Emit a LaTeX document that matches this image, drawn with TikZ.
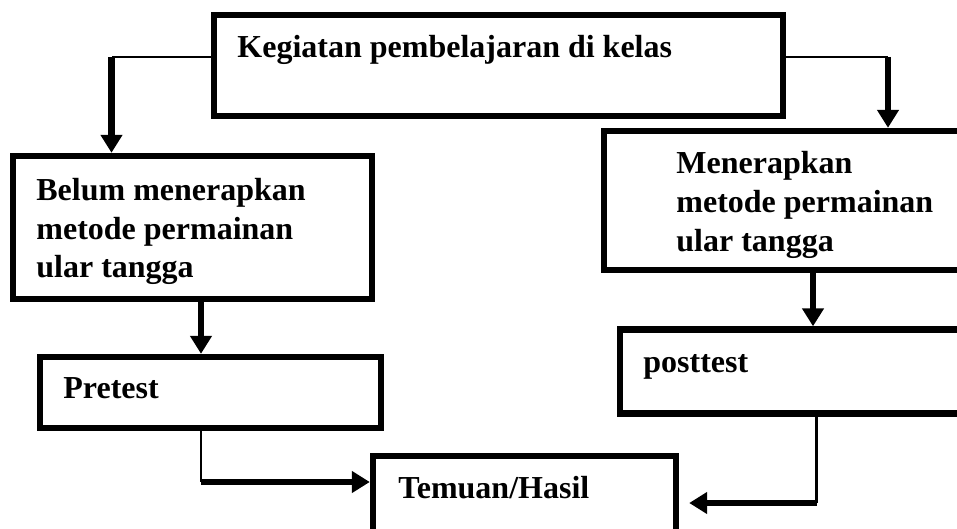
\documentclass[tikz,border=0pt]{standalone}
\usepackage{fontspec}
\setmainfont{Liberation Serif}
\usetikzlibrary{arrows.meta}
\begin{document}
\begin{tikzpicture}[
        x=0.5pt, y=-0.5pt,
        box/.style={rectangle, draw, line width=3.2pt, inner sep=0pt},
        txt/.style={font=\bfseries\fontsize{16}{19.5}\selectfont, anchor=base west, align=left, inner sep=0pt},
        link/.style={line width=1.3pt},
        flow/.style={line width=3.2pt, -{Triangle[width=10.5pt,length=9pt]}}
    ]
        \useasboundingbox (0,0) rectangle (957,529);
        \clip (0,0) rectangle (957,529);

        % Kotak-kotak
        \node[box, minimum width=284.5pt, minimum height=50.5pt] (kegiatan) at (498.5,65.5) {};
        \node[box, minimum width=179.5pt, minimum height=71.5pt] (belum) at (192.5,227.5) {};
        \node[box, minimum width=180.5pt, minimum height=69.5pt] (menerapkan) at (784.5,200.5) {};
        \node[box, minimum width=170.5pt, minimum height=35.5pt] (pretest) at (210.5,392.5) {};
        \node[box, minimum width=172.5pt, minimum height=42pt] (posttest) at (792.5,371.5) {};
        \node[box, minimum width=151.5pt, minimum height=44.5pt] (temuan) at (524.5,500.5) {};

        % Teks (base = garis dasar baris terakhir)
        \node[txt] (tkegiatan) at (237,58) {Kegiatan pembelajaran di kelas};
        \node[txt] (tbelum) at (36,278) {Belum menerapkan\\metode permainan\\ular tangga};
        \node[txt] (tmenerapkan) at (676,251) {Menerapkan\\metode permainan\\ular tangga};
        \node[txt] (tpretest) at (63,398) {Pretest};
        \node[txt] (tposttest) at (643,372) {posttest};
        \node[txt] (ttemuan) at (398,498) {Temuan/Hasil};

        % Titik belok
        \coordinate (kl) at (111.5,57);
        \coordinate (kr) at (888,57);
        \coordinate (pl) at (201,482);
        \coordinate (mp) at (813,0);
        \coordinate (pr) at (816.5,503);

        % Panah
        \draw[link] (kegiatan.west |- kl) -- (kl);
        \draw[flow] (kl) -- (kl |- belum.north);
        \draw[link] (kegiatan.east |- kr) -- (kr);
        \draw[flow] (kr) -- (kr |- menerapkan.north);
        \draw[flow] (belum.south -| pl) -- (pretest.north -| pl);
        \draw[flow] (menerapkan.south -| mp) -- (posttest.north -| mp);
        \draw[link] (pretest.south -| pl) -- (pl);
        \draw[flow] (pl) -- (pl -| temuan.west);
        \draw[link] (posttest.south -| pr) -- (pr);
        \draw[flow, shorten >=5pt] (pr) -- (pr -| temuan.east);
    \end{tikzpicture}
\end{document}
